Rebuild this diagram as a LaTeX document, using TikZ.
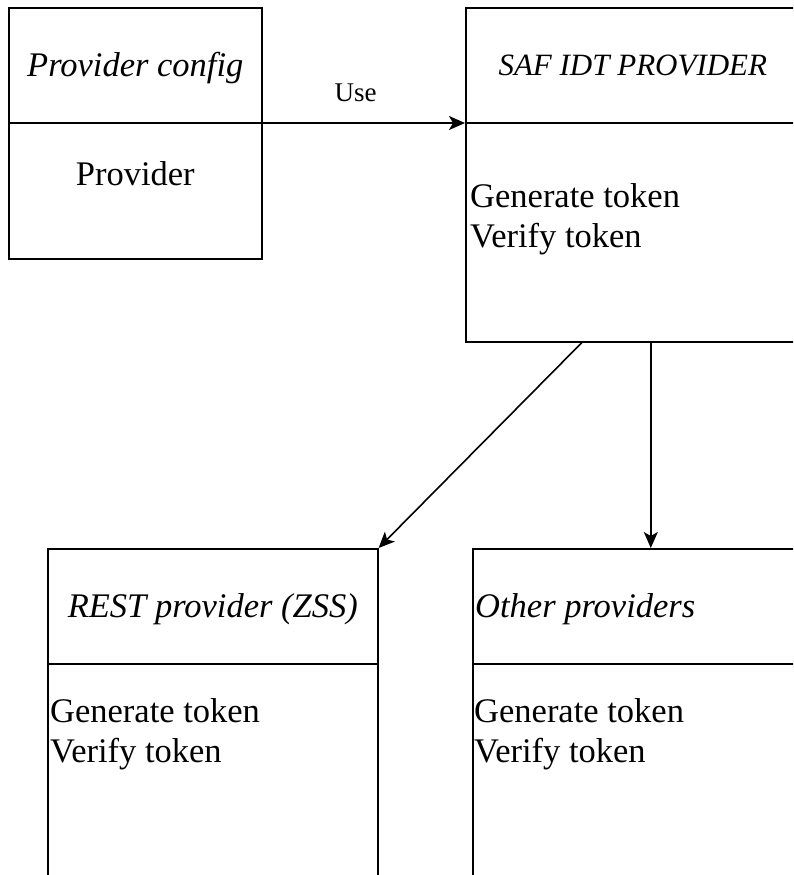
\documentclass[tikz,border=0pt]{standalone}
\usepackage{fontspec}
\setmainfont{Liberation Serif}
\usetikzlibrary{arrows.meta,positioning}
\tikzset{
  box/.style={draw, line width=1.6pt, inner sep=0pt, anchor=north west},
  divider/.style={line width=1.6pt},
  title/.style={font=\fontsize{34.5}{40}\selectfont\itshape, inner sep=0pt},
  body/.style={font=\fontsize{34.5}{40}\selectfont, align=left, inner sep=0pt},
  lbl/.style={font=\fontsize{27}{30}\selectfont, inner sep=0pt},
  link/.style={line width=1.6pt, -{Stealth[length=16pt, width=14pt, inset=4pt]}},
}
\begin{document}
\begin{tikzpicture}[x=1pt, y=-1pt]
  \clip (0,0) rectangle (793,875);
  \node[box, minimum width=253pt, minimum height=251pt] (cfg) at (8,7) {};
  \node[box, minimum width=334pt, minimum height=334pt] (saf) at (465,7) {};
  \node[box, minimum width=330pt, minimum height=360pt] (rest) at (47,548) {};
  \node[box, minimum width=360pt, minimum height=360pt] (other) at (472,548) {};
  \foreach \b/\y in {cfg/123, saf/123, rest/664, other/664}{%
    \draw[divider] (\b.west |- 0,\y) -- (\b.east |- 0,\y);
  }
  \node[title, anchor=base] (cfg-title) at (cfg.north |- 0,77) {Provider config};
  \node[body, anchor=base] (cfg-body) at (cfg.north |- 0,185) {Provider};
  \node[title, font=\fontsize{31}{36}\selectfont\itshape, anchor=base] (saf-title) at (saf.north |- 0,75) {SAF IDT PROVIDER};
  \node[body, anchor=north west] (saf-body) at (470,183) {Generate token\\Verify token};
  \node[title, anchor=base] (rest-title) at (rest.north |- 0,617) {REST provider (ZSS)};
  \node[body, anchor=north west] (rest-body) at (50,698) {Generate token\\Verify token};
  \node[title, anchor=base west] (other-title) at (475,617) {Other providers};
  \node[body, anchor=north west] (other-body) at (474,698) {Generate token\\Verify token};
  \draw[link] (cfg.east |- 0,123) -- node[lbl, pos=0.46, above=20pt] (use) {Use} (saf.west |- 0,123);
  \draw[link] ([xshift=-51pt]saf.south) -- (rest.north east);
  \draw[link] ([xshift=18pt]saf.south) -- ([xshift=18pt]saf.south |- other.north);
\end{tikzpicture}
\end{document}
